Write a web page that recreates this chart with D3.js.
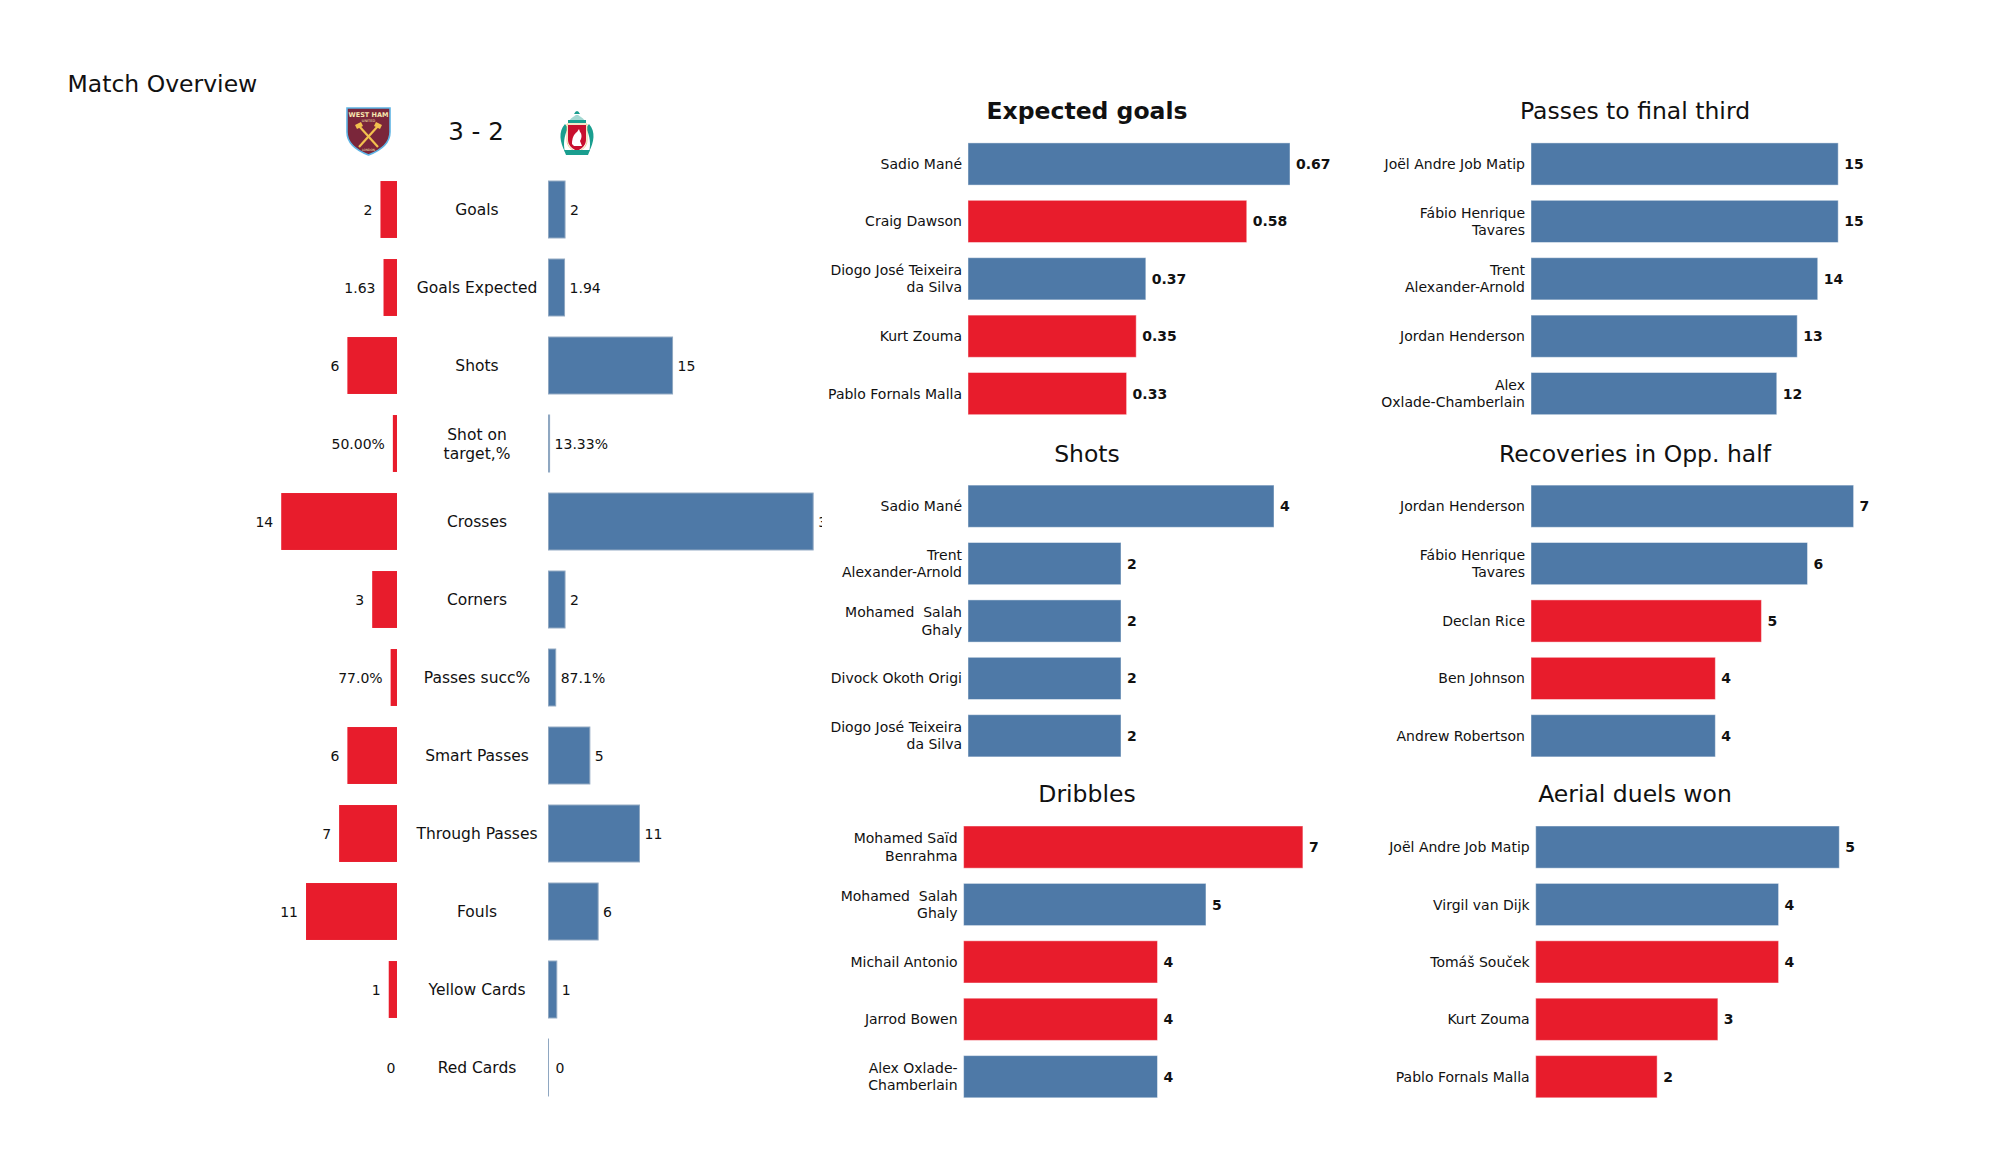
<!DOCTYPE html>
<html><head><meta charset="utf-8">
<script src="https://cdn.jsdelivr.net/npm/d3@7"></script>
<style>
body{margin:0;background:#fff}
text{font-family:"DejaVu Sans",sans-serif;fill:#111}
</style>
</head><body>
<svg id="c" width="2000" height="1175" xmlns="http://www.w3.org/2000/svg"></svg>
<script>
// ---------------- DATA ----------------
const HOME = "West Ham", AWAY = "Liverpool";
const teamColors = {W: "#e81c2c", L: "#4e79a7"};
const chartTitle = "Match Overview";
const score = "3 - 2";

const overviewCategories = ["Goals","Goals Expected","Shots","Shot on\ntarget,%","Crosses","Corners","Passes succ%","Smart Passes","Through Passes","Fouls","Yellow Cards","Red Cards"];
const homeValues = [2, 1.63, 6, 0.5, 14, 3, 0.77, 6, 7, 11, 1, 0];
const awayValues = [2, 1.94, 15, 0.1333, 32, 2, 0.871, 5, 11, 6, 1, 0];
const homeLabels = ["2","1.63","6","50.00%","14","3","77.0%","6","7","11","1","0"];
const awayLabels = ["2","1.94","15","13.33%","32","2","87.1%","5","11","6","1","0"];

const xgNames = ["Sadio Mané","Craig Dawson","Diogo José Teixeira\nda Silva","Kurt Zouma","Pablo Fornals Malla"];
const xgValues = [0.67, 0.58, 0.37, 0.35, 0.33];
const xgTeams = ["L","W","L","W","W"];

const shotNames = ["Sadio Mané","Trent\nAlexander-Arnold","Mohamed  Salah\nGhaly","Divock Okoth Origi","Diogo José Teixeira\nda Silva"];
const shotValues = [4, 2, 2, 2, 2];
const shotTeams = ["L","L","L","L","L"];

const dribbleNames = ["Mohamed Saïd\nBenrahma","Mohamed  Salah\nGhaly","Michail Antonio","Jarrod Bowen","Alex Oxlade-\nChamberlain"];
const dribbleValues = [7, 5, 4, 4, 4];
const dribbleTeams = ["W","L","W","W","L"];

const passNames = ["Joël Andre Job Matip","Fábio Henrique\nTavares","Trent\nAlexander-Arnold","Jordan Henderson","Alex\nOxlade-Chamberlain"];
const passValues = [15, 15, 14, 13, 12];
const passTeams = ["L","L","L","L","L"];

const recoveryNames = ["Jordan Henderson","Fábio Henrique\nTavares","Declan Rice","Ben Johnson","Andrew Robertson"];
const recoveryValues = [7, 6, 5, 4, 4];
const recoveryTeams = ["L","L","W","W","L"];

const aerialNames = ["Joël Andre Job Matip","Virgil van Dijk","Tomáš Souček","Kurt Zouma","Pablo Fornals Malla"];
const aerialValues = [5, 4, 4, 3, 2];
const aerialTeams = ["L","L","W","W","W"];

// ---------------- DRAW ----------------
const svg = d3.select("#c");

// Title
svg.append("text").attr("x", 67.5).attr("y", 92).style("font-size", "23.5px").text(chartTitle);

// Score
svg.append("text").attr("x", 476).attr("y", 140).attr("text-anchor", "middle")
  .style("font-size", "24.5px").text(score);

// ---- Logos (decorative) ----
function westHamLogo(g) {
  g.append("path").attr("d", "M0,0 H43 V24 C43,36 32,43 21.5,47 C11,43 0,36 0,24 Z")
    .attr("fill", "#7a263a").attr("stroke", "#5fb4e4").attr("stroke-width", 1.6);
  g.append("text").attr("x", 21.5).attr("y", 8.5).attr("text-anchor", "middle")
    .style("font-size", "6.5px").style("font-weight", "bold").style("fill", "#f7e7b0").text("WEST HAM");
  g.append("text").attr("x", 21.5).attr("y", 13.5).attr("text-anchor", "middle")
    .style("font-size", "3.5px").style("fill", "#f7e7b0").text("UNITED");
  const hc = "#f2c14e";
  g.append("line").attr("x1", 12).attr("y1", 18).attr("x2", 31).attr("y2", 39).attr("stroke", hc).attr("stroke-width", 2.2);
  g.append("line").attr("x1", 31).attr("y1", 18).attr("x2", 12).attr("y2", 39).attr("stroke", hc).attr("stroke-width", 2.2);
  g.append("path").attr("d", "M8,17 L14,14 L16,18 L10,21 Z").attr("fill", hc);
  g.append("path").attr("d", "M35,17 L29,14 L27,18 L33,21 Z").attr("fill", hc);
  g.append("text").attr("x", 21.5).attr("y", 43).attr("text-anchor", "middle")
    .style("font-size", "3px").style("fill", "#f7e7b0").text("LONDON");
}
function liverpoolLogo(g) {
  const gr = "#1a9e8f", rd = "#c8102e";
  // gates top
  g.append("path").attr("d", "M11,13 Q19,2 27,13 Z").attr("fill", gr);
  g.append("path").attr("d", "M16,6 Q19,0 22,6 Z").attr("fill", gr);
  g.append("rect").attr("x", 10).attr("y", 12).attr("width", 18).attr("height", 3).attr("fill", gr);
  g.append("rect").attr("x", 12).attr("y", 8).attr("width", 14).attr("height", 4).attr("fill", "#fff").attr("opacity", 0.6);
  // flames
  g.append("path").attr("d", "M7,16 C0,24 2,34 7,44 C5,36 6,28 10,20 Z").attr("fill", gr);
  g.append("path").attr("d", "M31,16 C38,24 36,34 31,44 C33,36 32,28 28,20 Z").attr("fill", gr);
  // shield
  g.append("path").attr("d", "M9,16 H29 V32 C29,39 24,42 19,44 C14,42 9,39 9,32 Z")
    .attr("fill", "#fff").attr("stroke", "#e8c37a").attr("stroke-width", 0.8);
  g.append("path").attr("d", "M10,17 H28 V32 C28,38 23,41 19,43 C15,41 10,38 10,32 Z").attr("fill", rd);
  // bird
  g.append("path").attr("d", "M14,36 C14,30 16,26 19,24 L21,21 L22,24 C24,26 24,30 22,33 L24,38 L16,38 Z").attr("fill", "#fff");
  // banner
  g.append("path").attr("d", "M6,42 H32 L30,47 H8 Z").attr("fill", gr);
}
westHamLogo(svg.append("g").attr("transform", "translate(347,108)"));
liverpoolLogo(svg.append("g").attr("transform", "translate(558,108)"));

// ---- Overview bars ----
const yOv = d3.scaleBand().domain(overviewCategories).range([170.5, 1106.5])
  .paddingInner(0.27).paddingOuter(0.135);
const xHome = d3.scaleLinear().domain([0, 32]).range([397, 397 - 32 * 8.27]);
const xAway = d3.scaleLinear().domain([0, 32]).range([548.5, 548.5 + 32 * 8.27]);

const defs = svg.append("defs");
defs.append("clipPath").attr("id", "clipR").append("rect")
  .attr("x", 540).attr("y", 150).attr("width", 822 - 540).attr("height", 980);

const ov = svg.append("g");
const rowsData = overviewCategories.map((c, i) => ({c, h: homeValues[i], a: awayValues[i], hl: homeLabels[i], al: awayLabels[i]}));

ov.selectAll("rect.home").data(rowsData.filter(d => d.h > 0)).join("rect").attr("class", "home")
  .attr("x", d => xHome(d.h)).attr("y", d => yOv(d.c))
  .attr("width", d => xHome(0) - xHome(d.h)).attr("height", yOv.bandwidth())
  .attr("fill", teamColors.W);

ov.selectAll("text.hl").data(rowsData).join("text").attr("class", "hl")
  .attr("x", d => xHome(d.h) - (d.h > 0 ? 8 : 1.5)).attr("y", d => yOv(d.c) + yOv.bandwidth() / 2)
  .attr("dy", "0.36em").attr("text-anchor", "end").style("font-size", "14px").text(d => d.hl);

const right = svg.append("g").attr("clip-path", "url(#clipR)");
right.selectAll("rect.away").data(rowsData).join("rect").attr("class", "away")
  .attr("x", xAway(0)).attr("y", d => yOv(d.c))
  .attr("width", d => Math.max(0.01, xAway(d.a) - xAway(0))).attr("height", yOv.bandwidth())
  .attr("fill", teamColors.L).attr("stroke", "#8fa7c1").attr("stroke-width", 1);
right.selectAll("text.al").data(rowsData).join("text").attr("class", "al")
  .attr("x", d => xAway(d.a) + (d.a > 0 ? 5 : 7)).attr("y", d => yOv(d.c) + yOv.bandwidth() / 2)
  .attr("dy", "0.36em").style("font-size", "14px").text(d => d.al);

// category labels
ov.selectAll("text.cat").data(rowsData).join("text").attr("class", "cat")
  .attr("text-anchor", "middle").style("font-size", "15.5px")
  .each(function(d) {
    const lines = d.c.split("\n");
    const cy = yOv(d.c) + yOv.bandwidth() / 2;
    d3.select(this).selectAll("tspan").data(lines).join("tspan")
      .attr("x", 477).attr("y", (l, i) => cy + (i - (lines.length - 1) / 2) * 19)
      .attr("dy", "0.36em").text(l => l);
  });

// ---- Player panels ----
const panels = [
  {title: "Expected goals", bold: true, names: xgNames, values: xgValues, teams: xgTeams, fmt: d3.format(".2f"), x0: 968, wMax: 322, cx: 1087, r0: 135.3},
  {title: "Shots", bold: false, names: shotNames, values: shotValues, teams: shotTeams, fmt: d3.format("d"), x0: 968, wMax: 306, cx: 1087, r0: 477.5},
  {title: "Dribbles", bold: false, names: dribbleNames, values: dribbleValues, teams: dribbleTeams, fmt: d3.format("d"), x0: 963.6, wMax: 339.3, cx: 1087, r0: 818.4},
  {title: "Passes to final third", bold: false, names: passNames, values: passValues, teams: passTeams, fmt: d3.format("d"), x0: 1531, wMax: 307.2, cx: 1635, r0: 135.3},
  {title: "Recoveries in Opp. half", bold: false, names: recoveryNames, values: recoveryValues, teams: recoveryTeams, fmt: d3.format("d"), x0: 1531, wMax: 322.6, cx: 1635, r0: 477.5},
  {title: "Aerial duels won", bold: false, names: aerialNames, values: aerialValues, teams: aerialTeams, fmt: d3.format("d"), x0: 1535.7, wMax: 303.6, cx: 1635, r0: 818.4}
];
const STEP = 57.4;

panels.forEach(p => {
  const g = svg.append("g");
  const data = p.names.map((n, i) => ({n, v: p.values[i], t: p.teams[i], key: i}));
  const y = d3.scaleBand().domain(d3.range(data.length)).range([p.r0, p.r0 + STEP * data.length])
    .paddingInner(0.265).paddingOuter(0.1325);
  const x = d3.scaleLinear().domain([0, d3.max(p.values)]).range([p.x0, p.x0 + p.wMax]);

  g.append("text").attr("x", p.cx).attr("y", p.r0 + STEP / 2 - 44.7).attr("text-anchor", "middle")
    .style("font-size", "23.5px").style("font-weight", p.bold ? "bold" : "normal").text(p.title);

  g.selectAll("rect").data(data).join("rect")
    .attr("x", x(0)).attr("y", d => y(d.key)).attr("width", d => x(d.v) - x(0)).attr("height", y.bandwidth())
    .attr("fill", d => teamColors[d.t]).attr("stroke", "rgba(255,255,255,0.45)").attr("stroke-width", 1);

  g.selectAll("text.val").data(data).join("text").attr("class", "val")
    .attr("x", d => x(d.v) + 6).attr("y", d => y(d.key) + y.bandwidth() / 2).attr("dy", "0.36em")
    .style("font-size", "14px").style("font-weight", "bold").text(d => p.fmt(d.v));

  g.selectAll("text.name").data(data).join("text").attr("class", "name")
    .attr("text-anchor", "end").style("font-size", "14px").attr("xml:space", "preserve")
    .style("white-space", "pre")
    .each(function(d) {
      const lines = d.n.split("\n");
      const cy = y(d.key) + y.bandwidth() / 2;
      d3.select(this).selectAll("tspan").data(lines).join("tspan")
        .attr("x", x(0) - 6).attr("y", (l, i) => cy + (i - (lines.length - 1) / 2) * 17.3)
        .attr("dy", "0.36em").text(l => l);
    });
});
</script>
</body></html>
